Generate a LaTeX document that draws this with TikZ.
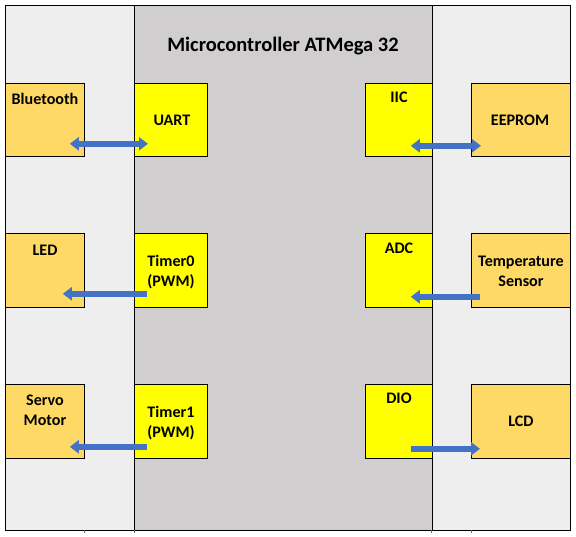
\documentclass[tikz,border=0pt]{standalone}
\usepackage{fontspec}
\setmainfont{Carlito}
\usetikzlibrary{arrows.meta}
\definecolor{lightbg}{HTML}{EEEEEE}
\definecolor{mcugray}{HTML}{D0CECE}
\definecolor{periph}{HTML}{FFD966}
\definecolor{modyellow}{HTML}{FFFF00}
\definecolor{arrowblue}{HTML}{4472C4}
\begin{document}
\begin{tikzpicture}[x=1pt,y=-1pt,
  box/.style={draw=black, line width=0.8pt, inner sep=0pt, anchor=north west},
  pbox/.style={box, fill=periph},
  mbox/.style={box, fill=modyellow},
  lbl/.style={font=\fontsize{16.1}{20}\selectfont\bfseries, inner sep=0pt, anchor=base},
  flow/.style={draw=arrowblue, line width=5.5pt, -{Triangle[length=9pt,width=13pt]}},
  bflow/.style={draw=arrowblue, line width=5.5pt, {Triangle[length=9pt,width=13pt]}-{Triangle[length=9pt,width=13pt]}},
  tickline/.style={draw=black!60, line width=0.6pt}]
\useasboundingbox (0,0) rectangle (576,536);
% background areas
\fill[lightbg] (5,5) rectangle (570,530);
\fill[mcugray] (134,5) rectangle (432,530);
\draw[black, line width=0.8pt] (5,5) rectangle (570,530);
\draw[black, line width=0.8pt] (134,5) -- (134,530);
\draw[black, line width=0.8pt] (432,5) -- (432,530);
\draw[tickline] (84,530) -- (84,533);
\draw[tickline] (134,530) -- (134,533);
\draw[tickline] (431,530) -- (431,533);
\draw[tickline] (471,530) -- (471,533);
% title
\node[font=\fontsize{20.5}{24}\selectfont\bfseries, inner sep=0pt, anchor=base] (title) at (283,51.6) {Microcontroller ATMega 32};
% boxes
\node[pbox, minimum width=79pt, minimum height=73pt] (bt) at (5,83) {};
\node[mbox, minimum width=73pt, minimum height=73pt] (uart) at (134,83) {};
\node[mbox, minimum width=67pt, minimum height=73pt] (iic) at (365,83) {};
\node[pbox, minimum width=99pt, minimum height=73pt] (eep) at (471,83) {};
\node[pbox, minimum width=79pt, minimum height=74pt] (led) at (5,233) {};
\node[mbox, minimum width=73pt, minimum height=74pt] (t0) at (134,233) {};
\node[mbox, minimum width=67pt, minimum height=74pt] (adc) at (365,233) {};
\node[pbox, minimum width=99pt, minimum height=74pt] (tmp) at (471,233) {};
\node[pbox, minimum width=79pt, minimum height=74pt] (servo) at (5,384) {};
\node[mbox, minimum width=73pt, minimum height=74pt] (t1) at (134,384) {};
\node[mbox, minimum width=67pt, minimum height=74pt] (dio) at (365,384) {};
\node[pbox, minimum width=99pt, minimum height=74pt] (lcd) at (471,384) {};
% labels
\node[lbl] (btT) at (45,104.2) {Bluetooth};
\node[lbl] (uartT) at (172,125.2) {UART};
\node[lbl] (iicT) at (399,102.2) {IIC};
\node[lbl] (eepT) at (520,125.2) {EEPROM};
\node[lbl] (ledT) at (45,255.2) {LED};
\node[lbl] (t0T) at (171,266.9) {\begin{tabular}[t]{@{}c@{}}Timer0\\(PWM)\end{tabular}};
\node[lbl] (adcT) at (399,253.2) {ADC};
\node[lbl] (tmpT) at (521,266.9) {\begin{tabular}[t]{@{}c@{}}Temperature\\Sensor\end{tabular}};
\node[lbl] (servoT) at (45,405.2) {\begin{tabular}[t]{@{}c@{}}Servo\\Motor\end{tabular}};
\node[lbl] (t1T) at (171,417.2) {\begin{tabular}[t]{@{}c@{}}Timer1\\(PWM)\end{tabular}};
\node[lbl] (dioT) at (399,403.2) {DIO};
\node[lbl] (lcdT) at (521,426.9) {LCD};
% connectors
\draw[bflow] ([shift={(-15,-13)}]bt.south east) -- ([shift={(14,-13)}]uart.south west);
\draw[bflow] ([shift={(-22,-11)}]iic.south east) -- ([shift={(10,-11)}]eep.south west);
\draw[flow] ([shift={(13,-14)}]t0.south west) -- ([shift={(-22,-14)}]led.south east);
\draw[flow] ([shift={(9,-11)}]tmp.south west) -- ([shift={(-22,-11)}]adc.south east);
\draw[flow] ([shift={(13,-12)}]t1.south west) -- ([shift={(-15,-12)}]servo.south east);
\draw[flow] ([shift={(-22,-10)}]dio.south east) -- ([shift={(9,-10)}]lcd.south west);
\end{tikzpicture}
\end{document}
